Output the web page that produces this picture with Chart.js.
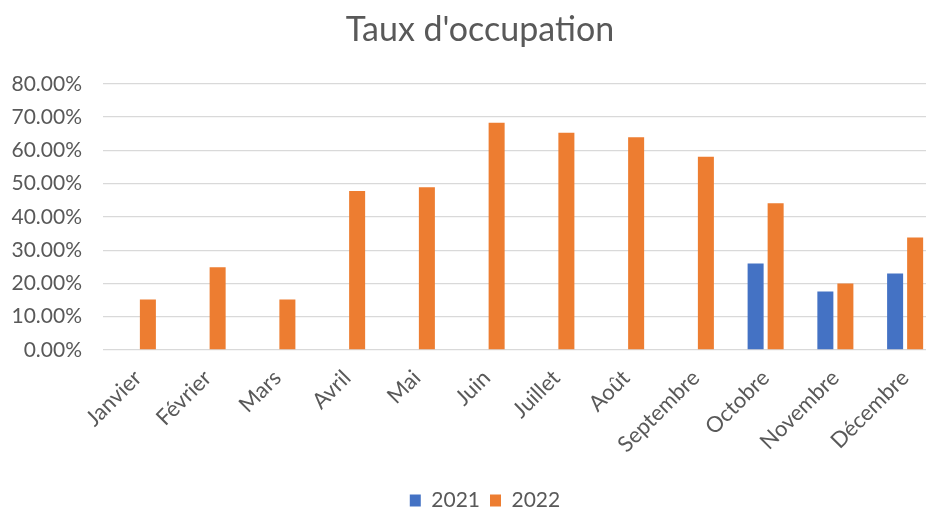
<!DOCTYPE html>
<html>
<head>
<meta charset="utf-8">
<script src="https://cdn.jsdelivr.net/npm/chart.js@4/dist/chart.umd.min.js"></script>
<style>
  html, body { margin: 0; padding: 0; background: #fff; overflow: hidden; }
  #wrap { position: relative; width: 940px; height: 525px; }
</style>
</head>
<body>
<div id="wrap"><canvas id="chart"></canvas></div>
<script>
// --- Données ---
const mois = ['Janvier', 'Février', 'Mars', 'Avril', 'Mai', 'Juin', 'Juillet', 'Août', 'Septembre', 'Octobre', 'Novembre', 'Décembre'];
const taux2021 = [null, null, null, null, null, null, null, null, null, 0.260, 0.176, 0.230];
const taux2022 = [0.152, 0.249, 0.152, 0.478, 0.489, 0.683, 0.653, 0.639, 0.581, 0.441, 0.200, 0.338];
const yMax = 0.8;
const yStep = 0.1;

const textColor = '#595959';
const fontFamily = 'Lato, "Noto Sans", sans-serif';

// petit décalage horizontal du titre et de la légende (centrés comme dans Excel)
const decalage = {
    id: 'decalage',
    afterLayout(chart) {
        chart.titleBlock.left += 10;
        chart.titleBlock.right += 10;
        chart.legend.left += 15;
        chart.legend.right += 15;
    }
};

new Chart(document.getElementById('chart').getContext('2d'), {
    type: 'bar',
    data: {
        labels: mois,
        datasets: [
            { label: '2021', data: taux2021, backgroundColor: '#4472C4' },
            { label: '2022', data: taux2022, backgroundColor: '#ED7D31' }
        ]
    },
    options: {
        responsive: true,
        maintainAspectRatio: false,
        animation: false,
        categoryPercentage: 0.574,
        barPercentage: 0.8,
        layout: { padding: { top: 6, right: 0, bottom: 4, left: 0 } },
        scales: {
            x: {
                grid: { display: false },
                border: { display: false },
                ticks: {
                    color: textColor,
                    font: { family: fontFamily, size: 22 },
                    autoSkip: false,
                    maxRotation: 45,
                    minRotation: 45,
                    padding: 7
                },
                afterFit: function(scale) { scale.height = 130; }
            },
            y: {
                min: 0,
                max: yMax,
                grid: { color: '#D9D9D9', lineWidth: 1.3, drawTicks: false },
                border: { display: false },
                ticks: {
                    stepSize: yStep,
                    color: textColor,
                    font: { family: fontFamily, size: 21 },
                    padding: 21,
                    callback: function(v) { return (v * 100).toFixed(2) + '%'; }
                },
                afterFit: function(scale) { scale.width = 103; }
            }
        },
        plugins: {
            title: {
                display: true,
                text: "Taux d'occupation",
                color: textColor,
                font: { family: fontFamily, size: 34, weight: 'normal' },
                padding: { top: 4, bottom: 33 }
            },
            legend: {
                position: 'bottom',
                labels: {
                    color: textColor,
                    font: { family: fontFamily, size: 21 },
                    boxWidth: 11,
                    boxHeight: 12,
                    padding: 10
                }
            },
            tooltip: { enabled: false }
        }
    },
    plugins: [decalage]
});
</script>
</body>
</html>
